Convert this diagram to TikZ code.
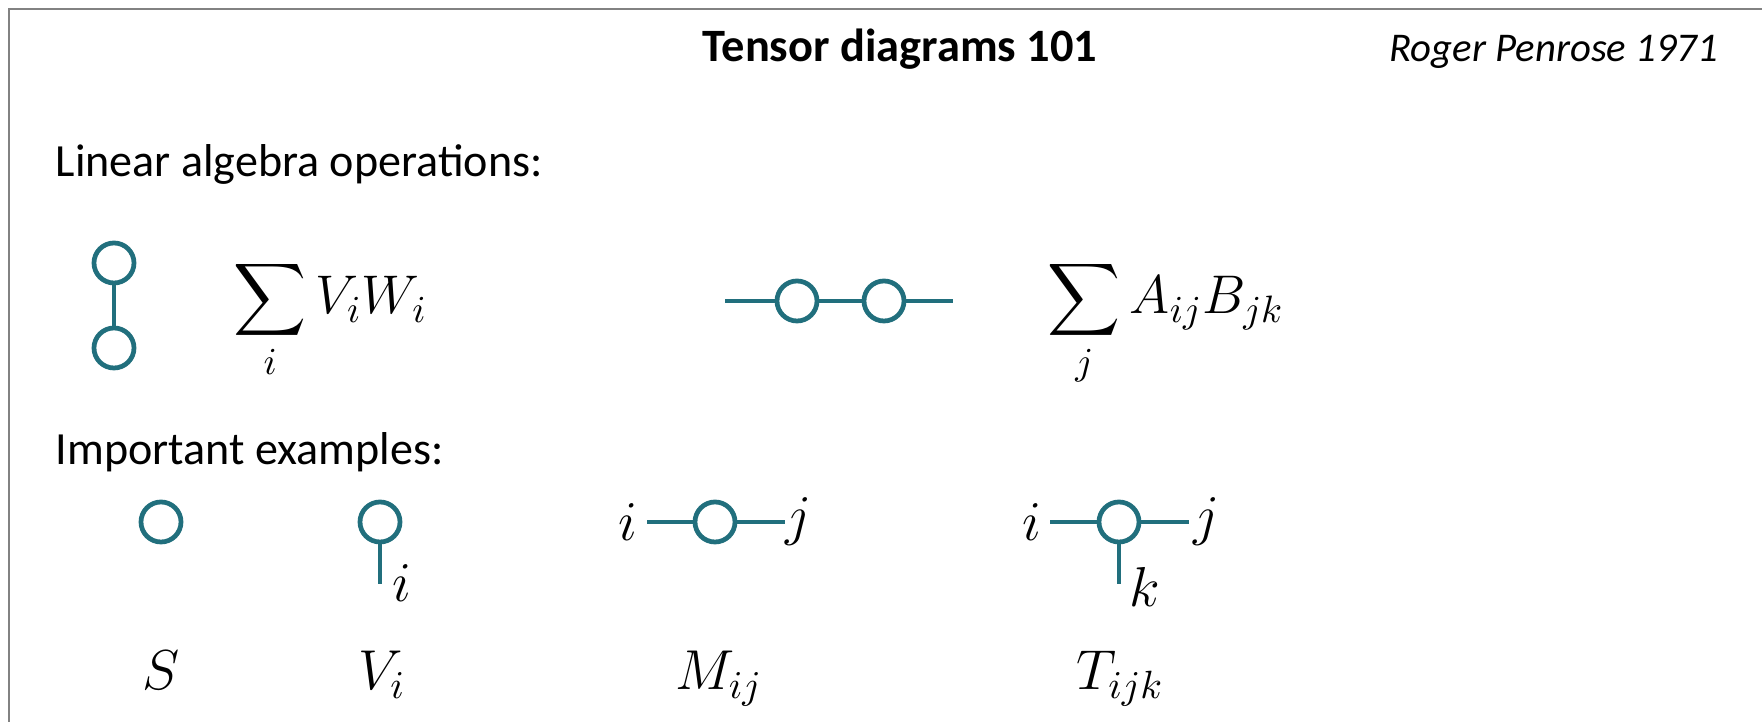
\RequirePackage{fix-cm}
\documentclass[tikz,border=0pt]{standalone}
\usepackage{exscale}
\usepackage{fontspec}
\setmainfont{Carlito}
\definecolor{pteal}{RGB}{33,111,125}
\definecolor{framegray}{RGB}{130,130,130}
\tikzset{
  tens/.style   = {circle, draw=pteal, line width=1.35pt, minimum size=4mm, inner sep=0},
  leg/.style    = {draw=pteal, line width=1.35pt},
  idx/.style    = {font=\fontsize{16}{19}\selectfont, inner sep=0},
  eq/.style     = {font=\fontsize{15.5}{19}\selectfont, inner sep=0, anchor=base west},
  nome/.style   = {font=\fontsize{16}{19}\selectfont, inner sep=0, anchor=base},
  head/.style   = {font=\fontsize{13.1}{16}\selectfont, inner sep=0, anchor=base west},
  titolo/.style = {font=\fontsize{13.2}{16}\selectfont\bfseries, inner sep=0, anchor=base west},
  autore/.style = {font=\fontsize{11.6}{15}\selectfont\itshape, inner sep=0, anchor=base east}
}

\begin{document}
\begin{tikzpicture}[x=0.01cm, y=-0.01cm]

  \useasboundingbox (0,0) rectangle (1762,722);
  \draw[framegray, line width=0.6pt] (1762,9) -- (9,9) -- (9,722);

  % ---------- titolo ----------
  \node[titolo] (tit) at (702,62) {Tensor diagrams 101};
  \node[autore] (pen) at (1719,62) {Roger Penrose 1971};

  % ---------- operazioni ----------
  \node[head] (ops) at (55,177) {Linear algebra operations:};

  \node[tens] (V) at (114,263){}; \node[tens] (W) at (114,348){}; \draw[leg] (V) -- (W);
  \node[eq] (sVW) at (233,314) {$\displaystyle\sum_i V_iW_i$};

  \coordinate (al) at (725,301); \coordinate (br) at (953,301);
  \node[tens] (A) at (797,301){}; \node[tens] (B) at (884,301){};
  \draw[leg] (al) -- (A) -- (B) -- (br);
  \node[eq] (sAB) at (1047,314) {$\displaystyle\sum_j A_{ij}B_{jk}$};

  % ---------- esempi ----------
  \node[head] (ex) at (55,465) {Important examples:};

  % scalare
  \node[tens] (S) at (161,522){};

  % vettore
  \node[tens] (Vi) at (380,522){}; \coordinate (vi) at (380,584); \draw[leg] (Vi) -- (vi);
  \node[idx] at (402,583) {$i$};

  % matrice
  \coordinate (mi) at (647,522); \coordinate (mj) at (785,522);
  \node[tens] (M) at (715,522){}; \draw[leg] (mi) -- (M) -- (mj);
  \node[idx] at (628,522) {$i$}; \node[idx] at (798,522) {$j$};

  % tensore di ordine 3
  \coordinate (ti) at (1050,522); \coordinate (tj) at (1189,522); \coordinate (tk) at (1119,584);
  \node[tens] (T) at (1119,522){};
  \draw[leg] (ti) -- (T) -- (tj); \draw[leg] (T) -- (tk);
  \node[idx] at (1032,522) {$i$}; \node[idx] at (1206,522) {$j$}; \node[idx] at (1145,587) {$k$};

  % nomi
  \node[nome] (nS) at (161,690) {$S$};
  \node[nome] (nV) at (382,690) {$V_i$};
  \node[nome] (nM) at (719,690) {$M_{ij}$};
  \node[nome] (nT) at (1120,690) {$T_{ijk}$};

\end{tikzpicture}
\end{document}
